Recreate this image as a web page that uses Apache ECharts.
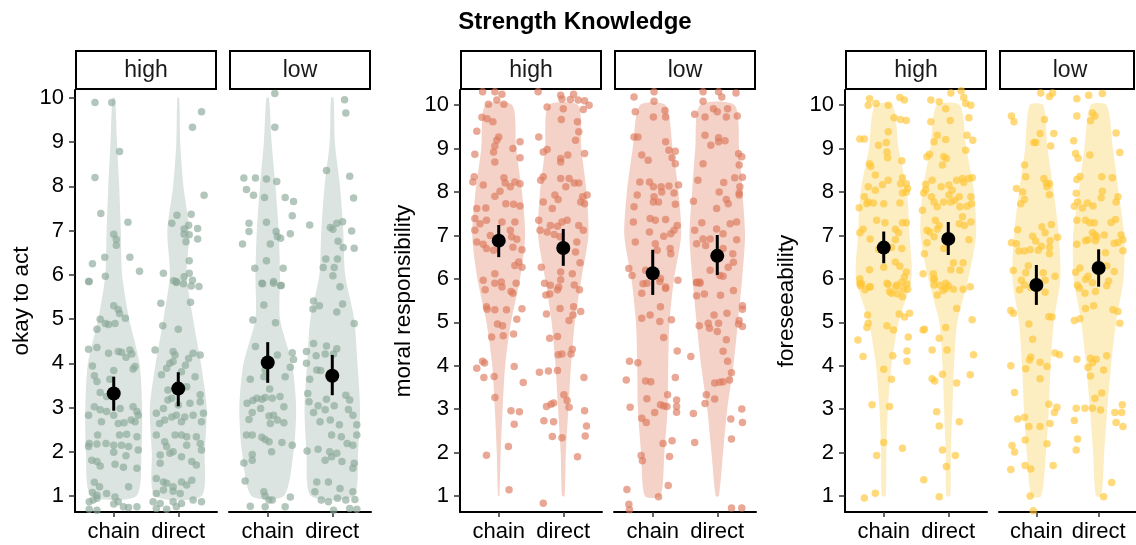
<!DOCTYPE html>
<html>
<head>
<meta charset="utf-8">
<title>Strength Knowledge</title>
<script src="https://cdn.jsdelivr.net/npm/echarts@6/dist/echarts.min.js"></script>
<style>
  html, body { margin: 0; padding: 0; background: #fff; }
  #chart { width: 1136px; height: 545px; }
</style>
</head>
<body>
<div id="chart"></div>
<script>
// x labels and facet labels
const categories = ['chain', 'direct']
const facetLabels = ['high', 'low']
const yTicks = [1, 2, 3, 4, 5, 6, 7, 8, 9, 10]
// violin half widths (category units) read at y = 1..10
const violinLevels = [1, 2, 3, 4, 5, 6, 7, 8, 9, 10]

// ---- okay to act ----
// jittered points: [offset from category, rating]
const okayHighChain = [[-0.29,9.9],[-0.03,9.9],[0.09,8.79],[-0.29,8.2],[-0.2,7.39],[0.22,7.19],[0,6.92],[0.04,6.8],[0.04,6.67],[-0.33,6.25],[-0.14,6.4],[0.25,6.4],[-0.13,5.97],[0.4,6.08],[-0.39,5.85],
  [-0.38,5.85],[0,5.3],[0.07,5.22],[0.09,5.13],[0.18,5.02],[-0.21,5],[-0.13,4.9],[-0.08,4.88],[0.02,4.9],[-0.26,4.77],[-0.39,4.32],[-0.26,4.36],[-0.08,4.23],[0.07,4.27],[0.12,4.25],[0.25,4.3],[0.28,4.21],[0.19,4.14],
  [-0.33,3.94],[0.33,3.93],[0,3.84],[0.3,3.87],[-0.3,3.72],[-0.26,3.59],[-0.06,3.64],[-0.21,3.34],[-0.11,3.25],[-0.3,3.02],[-0.21,2.95],[-0.11,2.91],[0.1,2.98],[-0.39,2.83],[0,2.83],[0.3,3.02],[0.36,2.91],[0.38,2.83],
  [0.07,2.64],[0.16,2.66],[0.27,2.72],[0.33,2.68],[-0.19,2.68],[-0.25,2.38],[0.09,2.38],[0.2,2.4],[0.36,2.34],[-0.38,2.19],[-0.26,2.18],[-0.12,2.19],[0,2.15],[0.12,2.15],[0.23,2.12],[-0.39,2.12],[0.38,2.04],[0,1.99],
  [0.19,1.91],[-0.34,1.81],[-0.26,1.78],[-0.21,1.68],[0.02,1.72],[0.15,1.65],[0.36,1.63],[0.23,1.21],[-0.3,1.31],[-0.22,1.21],[-0.33,1.08],[-0.26,1.02],[-0.11,1.06],[-0.38,0.87],[-0.32,0.91],[-0.26,0.95],[0.02,0.98],
  [0.07,0.87],[0,0.82],[0.15,0.76],[0.23,0.74],[0.36,0.76],[-0.38,0.7],[-0.26,0.68]]
const okayHighDirect = [[0.36,9.69],[0.22,9.34],[0.4,7.8],[-0.02,7.35],[0.2,7.37],[-0.1,7.17],[0.16,7.12],[0.09,7.04],[0.3,7.05],[0.09,6.92],[0.17,6.91],[0.12,6.75],[0.3,6.81],[0.17,6.32],[-0.23,6.04],[0.17,6.04],
  [-0.07,5.87],[-0.03,5.83],[0.09,5.96],[0.22,5.88],[0.32,5.74],[0.2,5.75],[-0.27,5.36],[0.19,5.38],[-0.24,4.85],[0,4.77],[0.08,5.8],[-0.03,5.85],[-0.36,4.3],[-0.08,4.27],[-0.05,4.19],[0.23,4.23],[0.34,4.19],
  [0.16,4.11],[-0.13,4],[-0.18,3.89],[-0.26,3.74],[0.05,3.81],[0.26,3.7],[-0.08,4.04],[0.11,3.96],[-0.16,3.4],[-0.1,3.21],[-0.16,3.17],[0.13,3.47],[0.34,3.29],[0.18,3.1],[-0.23,2.98],[0,3.06],[0.34,3.13],
  [-0.34,2.87],[-0.1,2.79],[-0.03,2.83],[0.1,2.79],[0.23,2.83],[0.39,2.87],[-0.21,2.72],[0.05,2.68],[0.36,2.68],[-0.29,2.64],[-0.34,2.38],[-0.05,2.38],[0.05,2.38],[0.13,2.34],[0.28,2.34],[-0.21,2.23],[-0.18,2.12],
  [-0.08,2],[-0.13,1.97],[0.34,2.19],[0.36,2.04],[0.13,2.15],[-0.28,1.93],[0.05,1.89],[0.21,1.78],[-0.28,1.74],[0.28,1.7],[-0.34,1.4],[-0.23,1.32],[-0.18,1.29],[-0.08,1.21],[0.05,1.32],[0.21,1.36],[0.13,1.25],
  [-0.23,1.14],[-0.08,1.11],[-0.34,1.06],[0.03,1.06],[-0.39,0.87],[-0.28,0.83],[-0.08,0.87],[0.05,0.83],[0.23,0.91],[0.36,0.87],[-0.34,0.72],[-0.18,0.7],[-0.03,0.76]]
const okayLowChain = [[0.11,10.1],[0.11,9.34],[-0.37,8.19],[-0.19,8.19],[-0.02,8.17],[0.14,8.11],[-0.33,7.93],[-0.22,7.8],[-0.05,7.75],[0.27,7.75],[0.4,7.66],[0.38,7.34],[-0.02,7.19],[-0.29,7.17],[-0.29,6.98],
  [0.13,6.98],[0.15,6.87],[0.2,6.83],[0.35,6.93],[-0.39,6.7],[0.04,6.7],[-0.02,6.32],[-0.2,6.15],[0.24,6.15],[-0.09,5.81],[0.09,5.85],[0.2,5.76],[-0.08,5.8],[0.09,5.81],[0.21,5.76],[-0.06,5.32],[-0.23,4.98],
  [0.12,4.92],[-0.19,4.38],[0.38,4.24],[0.4,4.09],[0.15,4.19],[-0.04,3.85],[-0.06,3.7],[-0.27,3.64],[0.27,3.7],[0.35,3.91],[0.03,3.42],[-0.32,3.1],[-0.23,3.16],[-0.17,3.21],[-0.09,3.19],[-0.04,3.23],[0.07,3.21],
  [0.19,3.25],[0.25,3.02],[-0.24,2.89],[-0.11,2.98],[0.02,2.81],[0.09,2.83],[0.15,2.72],[-0.29,2.73],[0.04,2.64],[0.25,2.66],[-0.33,2.38],[-0.24,2.38],[-0.09,2.33],[-0.04,2.28],[0.02,2.23],[0.22,2.21],[0.38,2.15],
  [0.06,2],[-0.24,1.94],[-0.24,1.81],[-0.37,1.75],[-0.35,1.34],[-0.06,1.1],[-0.04,1],[0.02,0.91],[0.07,0.91],[0.35,0.98],[-0.27,0.77],[-0.04,0.76],[0.27,0.76]]
const okayLowDirect = [[0.19,9.96],[0.21,9.66],[-0.09,8.36],[0.27,8.23],[0.33,7.74],[-0.35,7.13],[-0.03,7.07],[0.01,7.03],[0.07,7.17],[0.16,7.2],[0.3,6.99],[0.09,6.76],[0.17,6.62],[0.34,6.6],[-0.1,6.36],
  [0.08,6.36],[-0.14,6.17],[0.03,6.17],[0.01,5.98],[0.12,5.73],[-0.29,5.41],[-0.2,5.3],[-0.3,5.23],[0.07,5.16],[0.16,5.34],[0.34,4.9],[-0.29,4.45],[-0.09,4.39],[0.07,4.33],[-0.4,4.27],[-0.25,4.17],[-0.11,4.21],
  [0.02,4.21],[-0.4,4],[-0.24,3.85],[-0.18,3.84],[-0.35,3.64],[-0.38,3.32],[-0.36,3.13],[-0.22,3.04],[-0.09,3.19],[0.03,3.04],[-0.29,2.89],[-0.19,2.68],[-0.11,2.95],[0.21,3.28],[0.27,3.17],[0.25,2.96],[0.32,2.83],
  [0.38,2.61],[-0.03,2.72],[0.11,2.61],[-0.01,2.38],[0.14,2.34],[0.38,2.38],[0.23,2.19],[0.32,2.15],[-0.39,2.02],[-0.22,2.06],[-0.04,2],[0.07,1.97],[0.15,1.78],[-0.11,1.81],[-0.01,1.89],[0.34,1.74],[0.32,1.63],
  [-0.24,1.32],[-0.06,1.32],[0.12,1.17],[0.32,1.1],[-0.27,1.1],[-0.17,0.91],[-0.06,0.87],[0.08,0.95],[0.21,0.91],[0.35,0.92],[0.27,0.72],[0.38,0.7],[0.02,0.68]]
// violin half widths: high chain, high direct, low chain, low direct
const okayViolins = [
  [0.35, 0.43, 0.44, 0.40, 0.24, 0.13, 0.11, 0.085, 0.05, 0.02],
  [0.36, 0.41, 0.44, 0.35, 0.23, 0.13, 0.17, 0.08, 0.03, 0.015],
  [0.25, 0.40, 0.44, 0.375, 0.19, 0.19, 0.17, 0.12, 0.06, 0.02],
  [0.33, 0.40, 0.43, 0.39, 0.34, 0.20, 0.17, 0.12, 0.04, 0.02]
]
const okayMean = [3.32, 3.43, 4.02, 3.72]
const okayLow = [2.93, 3.03, 3.56, 3.28]
const okayHigh = [3.70, 3.80, 4.48, 4.19]

// ---- moral responsibility ----
const moralHighChain = [[-0.25,10.31],[-0.06,10.31],[0.05,10.25],[-0.03,10.12],[-0.16,10.02],[0.08,10.02],[-0.26,9.72],[-0.18,9.69],[-0.09,9.62],[-0.34,9.4],[0,9.27],[-0.03,9.19],[-0.06,9.06],[0.33,9.16],
  [0.22,9],[-0.08,8.92],[-0.37,8.87],[0.33,8.79],[-0.06,8.69],[-0.38,8.35],[-0.4,8.23],[-0.24,8.16],[0.08,8.33],[0.1,8.21],[0.25,8.23],[0.33,8.19],[0.18,8.12],[0.02,8.02],[-0.06,7.9],[0.11,7.73],[0.23,7.72],
  [0.33,7.68],[-0.34,7.62],[-0.2,7.63],[-0.37,7.39],[-0.19,7.35],[-0.29,7.27],[0.05,7.31],[0.25,7.31],[-0.37,7.12],[-0.13,7],[0.18,7.12],[0.2,6.97],[0.28,6.91],[-0.34,6.85],[-0.24,6.8],[-0.19,6.7],[0.22,6.73],
  [0.36,6.67],[-0.08,6.66],[0.31,6.39],[0.36,6.27],[0.25,6.31],[-0.06,6.12],[-0.24,5.97],[0.04,5.93],[-0.21,5.75],[0.05,5.81],[-0.06,5.9],[0.27,5.9],[0.19,5.71],[0.22,5.67],[-0.19,5.36],[-0.18,5.3],[-0.06,5.29],
  [0.12,5.29],[0.36,5.31],[0.28,5.07],[-0.02,4.96],[0.06,4.92],[0.23,4.73],[-0.11,4.66],[0.07,4.69],[-0.34,3.94],[-0.25,4.1],[-0.22,4.06],[0.24,3.98],[-0.23,3.73],[-0.07,3.75],[0.38,3.61],[-0.06,3.27],[0.19,2.96],
  [0.32,2.94],[0.24,2.65],[-0.19,1.94],[0.15,2.14],[0.16,1.14]]
const moralHighDirect = [[-0.39,10.31],[-0.04,10.23],[0.16,10.25],[-0.02,10.14],[0.11,10.13],[0.23,10.12],[0.33,10.1],[0.4,10],[-0.25,9.96],[0,9.92],[0.31,9.9],[-0.03,9.67],[0.22,9.62],[0.24,9.39],[-0.38,9.27],
  [0.19,9.19],[-0.25,8.98],[-0.31,8.92],[0.33,8.89],[-0.04,8.77],[-0.04,8.69],[0.07,8.85],[-0.31,8.35],[-0.35,8.27],[-0.04,8.31],[0.09,8.31],[0.17,8.21],[0.24,8.21],[0.04,8.12],[-0.13,7.93],[-0.08,7.83],[0.3,7.89],
  [0.37,7.93],[0.27,7.77],[0.33,7.73],[-0.17,7.62],[-0.31,7.77],[-0.2,7.23],[-0.09,7.21],[-0.02,7.31],[0.06,7.35],[0.24,7.23],[0.31,7.12],[-0.38,7.35],[-0.36,7.12],[-0.25,7.08],[-0.14,7.02],[-0.05,6.97],[0.21,6.85],
  [0.19,6.62],[0.26,6.37],[-0.34,6.27],[-0.04,6.16],[0.14,6.12],[-0.2,5.85],[-0.07,5.81],[-0.29,5.9],[-0.27,5.63],[-0.21,5.65],[-0.09,5.75],[-0.04,5.98],[0.25,5.75],[0.17,5.86],[0.16,5.36],[-0.05,5.32],[0.15,5.17],
  [-0.26,5.19],[0.27,5.25],[0.09,5.04],[-0.21,4.63],[-0.09,4.67],[-0.08,4.25],[-0.02,4.27],[0.14,4.38],[0.12,4.27],[-0.37,3.85],[-0.23,3.88],[-0.09,3.89],[0.32,3.73],[0.01,3.33],[0.06,3.2],[0.09,3.04],[-0.26,3.06],
  [-0.19,3.11],[-0.15,3.14],[-0.3,2.73],[-0.15,2.71],[0.33,2.96],[0.36,2.61],[-0.17,2.37],[-0.02,2.34],[0.34,2.38],[0.22,1.9],[-0.31,0.83]]
const moralLowChain = [[-0.29,10.19],[0.02,10.31],[0.02,10.09],[-0.27,9.85],[0.01,9.73],[0.19,9.88],[0.2,9.73],[-0.29,9.27],[-0.23,9.27],[0.2,9.16],[-0.17,8.85],[-0.07,8.73],[0.25,8.96],[0.35,8.94],[0.3,8.79],
  [0.35,8.65],[-0.2,8.23],[-0.05,8.23],[0.01,8.12],[0.13,8.12],[0.25,8.14],[0.4,8.16],[-0.24,7.93],[0.02,7.89],[0.14,8],[0.33,7.98],[-0.29,7.66],[0.01,7.77],[0.09,7.77],[0.35,7.72],[-0.3,7.31],[-0.04,7.39],[0.04,7.35],
  [0.2,7.37],[0.38,7.23],[-0.05,7.08],[0.33,7.12],[0.28,7.04],[0.17,6.98],[-0.27,6.85],[0.04,6.81],[0.07,6.66],[0.27,6.7],[0.28,6.58],[-0.37,6.24],[-0.32,6.08],[-0.11,6.2],[0.12,6.01],[0.39,5.97],[-0.15,5.89],
  [0.2,5.81],[-0.17,5.67],[-0.09,5.9],[0.11,5.94],[0.2,5.78],[0.12,5.36],[-0.04,5.17],[-0.17,5.09],[0.11,5.02],[0.29,5.06],[0.17,4.65],[0.38,4.34],[-0.36,4.1],[-0.23,4.07],[-0.41,3.67],[-0.11,3.65],[-0.03,3.63],
  [0.35,3.73],[-0.09,3.24],[0.23,3.33],[0.37,3.21],[-0.35,3.04],[0.12,3.1],[0.17,3.07],[0.22,3.06],[0.37,3.06],[0.37,2.93],[0.03,2.92],[-0.17,2.79],[-0.1,2.69],[0.16,2.21],[0.3,2.27],[-0.18,1.93],[-0.16,1.81],
  [0.26,1.91],[-0.4,1.15],[0.24,1.24],[0.09,0.98],[-0.37,0.81],[-0.36,0.68]]
const moralLowDirect = [[-0.22,10.31],[0.02,10.31],[0.29,10.28],[0.07,10.19],[-0.22,10.09],[-0.35,9.79],[-0.19,9.73],[-0.06,9.92],[0,9.85],[0.16,9.92],[0.14,9.73],[0.31,9.75],[-0.19,9.31],[-0.1,9.08],[0.02,9.25],
  [0.02,9.16],[0.12,9.18],[0.33,8.88],[0.38,8.81],[0.34,8.62],[-0.22,8.65],[-0.3,8.27],[0.1,8.22],[0.27,8.33],[0.39,8.34],[0.35,8.12],[0.34,7.98],[0.03,8],[0.34,7.93],[0.14,7.83],[0.17,7.73],[-0.01,7.62],[-0.37,7.79],
  [0.3,7.31],[-0.24,7.29],[0.2,7.27],[-0.35,7.12],[0.09,7.04],[-0.01,7.15],[-0.11,6.92],[0.3,6.9],[-0.32,6.81],[-0.22,6.92],[-0.18,6.77],[0.09,6.7],[0.24,6.58],[0.25,6.38],[0.17,6.27],[-0.11,6.2],[0.04,6.08],
  [0.09,6.06],[-0.27,5.93],[-0.32,5.91],[-0.32,5.92],[-0.27,5.9],[-0.32,5.61],[-0.2,5.65],[0.05,5.62],[0.25,5.73],[0.39,5.38],[0.39,5.3],[0.15,5.21],[-0.05,5.17],[-0.14,4.98],[-0.12,4.86],[0.02,4.98],[0,4.79],
  [-0.28,4.92],[0.34,5.04],[0.33,4.96],[0.39,4.9],[0.14,4.6],[0.09,4.33],[-0.41,4.21],[0.16,4.1],[0.22,3.84],[0.19,3.67],[-0.04,3.6],[0.04,3.62],[0.09,3.63],[-0.17,3.33],[-0.04,3.23],[-0.19,3.13],[-0.37,2.9],
  [0.21,2.77],[0.38,3],[0.39,2.69],[-0.35,2.23],[0.22,2.31],[0.22,0.72],[0.38,0.72]]
const moralViolins = [
  [0.01, 0.03, 0.06, 0.10, 0.19, 0.33, 0.41, 0.36, 0.27, 0.21],
  [0.02, 0.04, 0.08, 0.12, 0.18, 0.28, 0.39, 0.36, 0.28, 0.23],
  [0.12, 0.18, 0.23, 0.24, 0.26, 0.33, 0.44, 0.40, 0.31, 0.20],
  [0.025, 0.09, 0.155, 0.25, 0.32, 0.385, 0.43, 0.39, 0.34, 0.27]
]
const moralMean = [6.88, 6.71, 6.13, 6.53]
const moralLow = [6.50, 6.30, 5.63, 6.09]
const moralHigh = [7.24, 7.15, 6.67, 7.01]

// ---- foreseeability ----
const foreHighChain = [[-0.22,10.15],[-0.24,10],[-0.12,10.04],[0.07,10],[0.25,10.18],[0.32,10.12],[0.16,9.71],[0.26,9.67],[0.35,9.65],[0.07,9.39],[-0.37,9.22],[-0.3,9.22],[0.04,9.14],[-0.08,9.08],[0.05,8.92],
  [0.06,8.79],[0.28,8.72],[-0.22,8.65],[-0.2,8.59],[-0.13,8.39],[0.29,8.33],[0.07,8.27],[-0.02,8.17],[0.26,8.19],[0.35,8.19],[-0.24,8.12],[-0.13,8.04],[0.29,7.98],[0.35,8],[0.37,8.08],[-0.3,7.89],[-0.24,7.77],
  [-0.26,7.73],[-0.16,7.75],[0,7.73],[0.25,7.75],[-0.38,7.64],[-0.11,7.35],[0.02,7.29],[0.29,7.29],[0.35,7.29],[-0.37,7.06],[-0.32,7.14],[0.18,7.14],[0.23,7.06],[-0.21,6.92],[0.18,6.9],[0.04,6.78],[0.12,6.72],
  [0.28,6.7],[-0.08,6.68],[0,6.27],[-0.22,6.21],[0.18,6.39],[0.25,6.29],[0.35,6.16],[0.32,6.04],[0.28,5.92],[-0.37,6],[-0.34,5.89],[-0.22,5.81],[0.07,5.87],[0.19,5.82],[-0.37,5.9],[-0.36,5.84],[-0.29,5.75],
  [-0.21,5.82],[0.05,5.9],[0.09,5.71],[0.12,5.67],[0.21,5.65],[0.2,5.86],[0.3,5.76],[0.36,5.88],[0.29,5.59],[0.37,5.76],[-0.25,5.17],[-0.24,4.98],[-0.26,4.88],[0.05,4.92],[0.15,4.82],[0.24,5.19],[0.32,5.12],
  [0.4,5.21],[-0.4,4.59],[0.38,4.66],[-0.32,4.21],[0.14,4.23],[0.36,4.34],[0.36,4.1],[0,3.92],[0.12,3.69],[-0.18,3.1],[0.09,3.06],[0,2.23],[-0.11,1.93],[0.29,2.1],[-0.3,0.95],[-0.13,1.06]]
const foreHighDirect = [[-0.27,10.12],[-0.14,10.08],[0.04,10.28],[0.2,10.33],[0.24,10.18],[0.27,10.04],[0.35,10],[-0.04,9.92],[0.32,9.71],[0.03,9.65],[-0.27,9.62],[-0.17,9.31],[0.29,9.31],[0.38,9.19],[-0.22,9.16],
  [-0.04,9.21],[-0.33,8.81],[-0.29,8.87],[-0.07,8.82],[-0.03,8.77],[-0.09,8.62],[0.27,8.96],[-0.35,8.18],[-0.35,8.05],[-0.25,8.27],[0.01,8.16],[0.13,8.27],[0.22,8.31],[0.32,8.31],[0.37,8.33],[0.24,8.22],[-0.11,8.12],
  [0.06,8.04],[-0.38,7.98],[-0.26,7.89],[0.01,7.93],[0.17,7.89],[-0.22,7.77],[-0.07,7.77],[0.04,7.77],[0.1,7.81],[0.35,7.89],[0.36,7.73],[-0.4,7.58],[-0.17,7.66],[0.18,7.66],[0.29,7.67],[0.22,7.43],[-0.2,7.35],
  [-0.14,7.23],[-0.33,7.12],[-0.29,7.08],[-0.17,7.14],[0.17,7.27],[0.35,7.31],[0.25,7.23],[-0.33,6.83],[-0.22,6.97],[-0.37,6.58],[-0.07,6.7],[0.08,6.37],[0.32,6.9],[0.23,6.37],[0.04,6.21],[-0.23,6.12],[0.18,6.2],
  [-0.39,6.12],[-0.22,6.01],[-0.13,5.85],[-0.04,5.78],[-0.22,5.98],[-0.22,5.86],[-0.17,5.63],[-0.04,5.9],[0,5.84],[-0.08,5.73],[0.08,5.76],[0.23,5.76],[0.34,5.82],[0.13,5.32],[-0.39,4.82],[-0.37,4.84],[-0.04,4.88],
  [-0.14,4.63],[0.37,5.06],[-0.25,4.36],[-0.02,4.36],[0.39,4.25],[-0.25,3.7],[-0.21,3.65],[-0.09,3.8],[0.13,3.6],[0.34,3.79],[-0.18,2.94],[-0.14,2.61],[0.17,2.71],[-0.09,2.06],[0.11,1.93],[-0.03,1.68],[-0.38,1.37],
  [-0.14,0.98]]
const foreLowChain = [[0.07,10.28],[0.21,10.2],[0.26,10.28],[-0.4,9.75],[-0.36,9.62],[0.13,9.67],[0.06,9.35],[-0.01,9.14],[-0.04,9.14],[0.28,9.35],[0.23,9.06],[-0.19,8.62],[-0.17,8.35],[-0.32,8.08],[0.12,8.31],
  [0.16,8.21],[0.21,8.19],[0.17,8.12],[0.21,7.94],[-0.22,8],[-0.19,7.83],[-0.25,7.73],[-0.3,7.13],[0.09,7.2],[0.14,7.06],[0.24,7.25],[-0.06,6.98],[-0.01,6.87],[0.22,6.88],[0.34,6.96],[-0.4,6.83],[-0.32,6.81],
  [-0.28,6.64],[-0.19,6.64],[-0.1,6.67],[0.03,6.66],[0.08,6.75],[0.21,6.73],[0.21,6.58],[-0.13,6.3],[-0.37,6.19],[-0.17,6.14],[-0.24,5.97],[0.11,6.14],[0.14,5.97],[0.3,6.06],[-0.09,5.8],[-0.27,5.75],[-0.19,5.86],
  [0.14,5.69],[-0.41,5.27],[-0.37,5.21],[0.2,5.13],[0.25,5.12],[-0.12,4.96],[-0.06,4.61],[0.3,4.29],[0.37,4.25],[-0.09,4.2],[-0.11,4.13],[0.06,4.08],[-0.41,4],[-0.17,3.93],[0.17,3.98],[0.06,3.7],[-0.35,3.38],
  [0.2,3.11],[0.33,3.04],[0.29,2.92],[-0.3,2.77],[-0.19,2.81],[-0.12,2.6],[0.06,2.6],[0.22,2.67],[-0.18,2.29],[0.17,2.2],[-0.39,2.16],[-0.35,2.01],[-0.18,1.7],[-0.09,1.62],[0.27,1.7],[-0.41,1.61],[-0.1,1],[-0.05,0.66]]
const foreLowDirect = [[-0.35,10.15],[-0.16,10.23],[0.06,10.27],[-0.35,9.75],[-0.1,9.82],[-0.06,9.75],[-0.13,9.64],[0.28,9.36],[-0.4,9.18],[-0.37,8.89],[-0.33,8.78],[-0.14,8.85],[0.34,8.91],[-0.35,8.29],[-0.3,8.36],
  [0.05,8.35],[0.22,8.33],[-0.36,7.97],[0.06,8.02],[0.04,7.87],[0.31,7.89],[0.28,7.77],[-0.34,7.77],[-0.39,7.67],[-0.26,7.63],[-0.18,7.75],[-0.09,7.68],[-0.35,7.35],[-0.21,7.35],[-0.14,7.29],[-0.07,7.29],[0.2,7.3],
  [0.27,7.37],[-0.1,7.06],[-0.06,7.01],[-0.03,6.97],[0.09,7.01],[0.36,7.01],[0.39,6.9],[-0.35,6.8],[-0.21,6.88],[-0.17,6.9],[-0.05,6.88],[0.25,6.82],[0.31,6.84],[0.11,6.6],[0.39,6.65],[-0.37,6.15],[-0.3,6.25],
  [-0.17,6.06],[0.13,6.3],[0.25,6.17],[0.16,5.95],[-0.21,5.99],[-0.34,5.85],[-0.1,5.91],[-0.31,5.79],[-0.22,5.67],[-0.05,5.71],[0.13,5.84],[-0.21,5.32],[-0.08,5.38],[0.23,5.29],[0.31,5.25],[0.34,4.98],[-0.39,5.04],
  [-0.3,5.08],[-0.35,4.15],[-0.13,4.17],[-0.04,4.15],[0.13,4.23],[-0.1,4.07],[-0.17,3.96],[-0.13,3.76],[0.08,3.9],[0.05,3.37],[-0.06,3.25],[-0.36,3.02],[-0.22,3.02],[-0.1,3.02],[0.03,2.98],[0.26,2.92],[0.37,2.92],
  [0.38,3.1],[-0.39,2.74],[0.28,2.69],[0.39,2.6],[-0.34,2.31],[-0.36,2.06],[0.21,1.31],[0.08,0.98]]
const foreViolins = [
  [0.03, 0.04, 0.065, 0.12, 0.23, 0.43, 0.40, 0.36, 0.23, 0.14],
  [0.03, 0.04, 0.065, 0.09, 0.14, 0.31, 0.43, 0.40, 0.28, 0.18],
  [0.08, 0.155, 0.20, 0.23, 0.28, 0.385, 0.36, 0.28, 0.18, 0.11],
  [0.045, 0.09, 0.14, 0.20, 0.28, 0.40, 0.41, 0.32, 0.23, 0.13]
]
const foreMean = [6.72, 6.92, 5.86, 6.25]
const foreLow = [6.36, 6.55, 5.40, 5.82]
const foreHigh = [7.09, 7.31, 6.32, 6.68]

const FONT = '"Liberation Sans", Arial, Helvetica, sans-serif'

const panels = [
  {name: 'okay to act', lefts: [75, 229], min: 0.64, max: 10.18, nameGap: 42,
    point: '#8aa898', violin: '#dbe4e0',
    groups: [okayHighChain, okayHighDirect, okayLowChain, okayLowDirect],
    violins: okayViolins, mean: okayMean, lo: okayLow, hi: okayHigh},
  {name: 'moral responsibility', lefts: [460, 614], min: 0.63, max: 10.35, nameGap: 45,
    point: '#dd7a5c', violin: '#f4d2c7',
    groups: [moralHighChain, moralHighDirect, moralLowChain, moralLowDirect],
    violins: moralViolins, mean: moralMean, lo: moralLow, hi: moralHigh},
  {name: 'foreseeability', lefts: [845, 999], min: 0.63, max: 10.35, nameGap: 47,
    point: '#ffc533', violin: '#fdeec2',
    groups: [foreHighChain, foreHighDirect, foreLowChain, foreLowDirect],
    violins: foreViolins, mean: foreMean, lo: foreLow, hi: foreHigh}
]

const GRID_TOP = 90
const GRID_H = 422
const GRID_W = 142

let grids = [], xAxes = [], yAxes = [], series = [], graphics = []

panels.forEach((p, pi) => {
  p.lefts.forEach((left, f) => {
    const gi = pi * 2 + f
    grids.push({left: left, top: GRID_TOP, width: GRID_W, height: GRID_H})
    xAxes.push({
      gridIndex: gi, type: 'value', min: 0.4, max: 2.6,
      splitLine: {show: false},
      axisLine: {show: true, onZero: false, lineStyle: {color: '#000', width: 2}},
      axisTick: {show: true, customValues: [1, 2], length: 5, lineStyle: {color: '#333', width: 1.5}},
      axisLabel: {customValues: [1, 2], formatter: v => categories[Math.round(v) - 1],
        fontSize: 22, color: '#000', fontFamily: FONT, margin: 9}
    })
    yAxes.push({
      gridIndex: gi, type: 'value', min: p.min, max: p.max,
      name: f === 0 ? p.name : '', nameLocation: 'middle', nameGap: p.nameGap, nameRotate: 90,
      nameTextStyle: {fontSize: 22.5, color: '#000', fontFamily: FONT},
      splitLine: {show: false},
      axisLine: {show: f === 0, onZero: false, lineStyle: {color: '#000', width: 2}},
      axisTick: {show: f === 0, customValues: yTicks, length: 6, lineStyle: {color: '#333', width: 1.5}},
      axisLabel: {show: f === 0, customValues: yTicks, fontSize: 22, color: '#000', fontFamily: FONT, margin: 11}
    })

    // violins
    series.push({
      type: 'custom', xAxisIndex: gi, yAxisIndex: gi, z: 1, silent: true,
      data: [[1, f * 2], [2, f * 2 + 1]],
      encode: {x: 0, y: 1},
      renderItem: (params, api) => {
        const cx = api.value(0)
        const w = p.violins[api.value(1)]
        const pts = []
        violinLevels.forEach((lv, k) => pts.push(api.coord([cx - w[k], lv])))
        for (let k = violinLevels.length - 1; k >= 0; k--) pts.push(api.coord([cx + w[k], violinLevels[k]]))
        return {type: 'polygon', shape: {points: pts, smooth: 0.25}, style: {fill: p.violin}}
      }
    })

    // jittered points
    const pts = []
    p.groups[f * 2].forEach(d => pts.push([1 + d[0], d[1]]))
    p.groups[f * 2 + 1].forEach(d => pts.push([2 + d[0], d[1]]))
    series.push({
      type: 'scatter', xAxisIndex: gi, yAxisIndex: gi, z: 2, silent: true,
      symbolSize: 7.5, data: pts,
      itemStyle: {color: p.point, opacity: 0.65}
    })

    // confidence intervals
    series.push({
      type: 'custom', xAxisIndex: gi, yAxisIndex: gi, z: 3, silent: true,
      data: [[1, p.lo[f * 2], p.hi[f * 2]], [2, p.lo[f * 2 + 1], p.hi[f * 2 + 1]]],
      encode: {x: 0, y: [1, 2]},
      renderItem: (params, api) => {
        const a = api.coord([api.value(0), api.value(1)])
        const b = api.coord([api.value(0), api.value(2)])
        return {type: 'line', shape: {x1: a[0], y1: a[1], x2: b[0], y2: b[1]},
          style: {stroke: '#000', lineWidth: 3}}
      }
    })

    // means
    series.push({
      type: 'scatter', xAxisIndex: gi, yAxisIndex: gi, z: 4, silent: true,
      symbolSize: 14, data: [[1, p.mean[f * 2]], [2, p.mean[f * 2 + 1]]],
      itemStyle: {color: '#000', opacity: 1}
    })

    // facet strip
    const stripW = Math.min(GRID_W, 1135 - left)
    graphics.push({
      type: 'rect', shape: {x: left + 1, y: 51, width: stripW - 2, height: 38},
      style: {fill: '#fff', stroke: '#000', lineWidth: 2}
    })
    graphics.push({
      type: 'text', x: left + GRID_W / 2, y: 71,
      style: {text: facetLabels[f], fontSize: 23, fontFamily: FONT, fill: '#1a1a1a',
        textAlign: 'center', textVerticalAlign: 'middle'}
    })
  })
})

graphics.push({
  type: 'text', x: 575, y: 22,
  style: {text: 'Strength Knowledge', fontSize: 24, fontWeight: 'bold', fontFamily: FONT,
    fill: '#000', textAlign: 'center', textVerticalAlign: 'middle'}
})

const chart = echarts.init(document.getElementById('chart'))
chart.setOption({
  animation: false,
  backgroundColor: '#fff',
  grid: grids,
  xAxis: xAxes,
  yAxis: yAxes,
  series: series,
  graphic: graphics
})
window.addEventListener('resize', () => chart.resize())
</script>
</body>
</html>
